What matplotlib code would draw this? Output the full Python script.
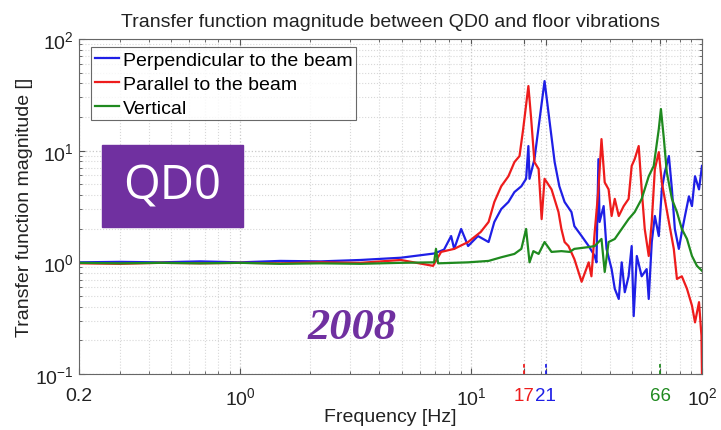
import numpy as np
import matplotlib
matplotlib.use("Agg")
import matplotlib.pyplot as plt
from matplotlib.patches import Rectangle
from matplotlib.ticker import FixedLocator, NullFormatter

plt.rcParams['font.family'] = ['Liberation Sans', 'DejaVu Sans']
plt.rcParams['mathtext.default'] = 'regular'

# values (frequency in Hz, magnitude)
f_perp = [0.2, 0.3, 0.45, 0.67, 1.0, 1.49, 2.23, 3.32, 4.96, 6.91, 7.63, 8.19, 8.44, 9.05, 9.70,
          10.7, 11.9, 12.6, 13.5, 14.5, 15.4, 16.5, 17.3, 17.7, 17.9, 18.8, 19.8, 20.8, 21.8, 23.0,
          24.1, 25.4, 27.2, 28.0, 30.1, 32.3, 34.3, 34.9, 35.6, 36.0, 37.5, 38.6, 40.6, 41.9, 43.6,
          44.9, 46.3, 48.1, 49.6, 50.6, 52.2, 54.8, 57.6, 58.8, 60.6, 62.5, 65.0, 67.0, 69.0, 71.9,
          74.1, 76.3, 79.4, 81.8, 84.4, 87.8, 90.5, 93.3, 97.1, 100]
m_perp = [1.0, 1.01, 1.0, 1.02, 1.0, 1.03, 1.02, 1.05, 1.1, 1.2, 1.3, 1.72, 1.32, 1.99, 1.4,
          1.72, 1.52, 2.3, 3.0, 3.47, 4.26, 4.8, 5.6, 11.0, 5.6, 8.4, 19.2, 42.0, 19.2, 7.9,
          4.8, 3.47, 2.82, 2.11, 1.72, 1.4, 1.14, 1.0, 8.4, 2.3, 3.19, 1.32, 0.87, 0.58, 0.47,
          1.0, 0.54, 0.75, 1.4, 0.33, 1.14, 0.75, 0.87, 0.47, 1.52, 2.6, 1.72, 4.5, 6.4, 8.95,
          4.5, 1.99, 1.32, 1.87, 2.6, 3.9, 3.19, 5.9, 4.5, 7.3]

f_par = [0.2, 0.3, 0.45, 0.67, 1.0, 1.49, 2.23, 3.32, 4.96, 6.84, 7.41, 8.44, 9.70, 11.0, 11.9,
         12.6, 13.5, 14.5, 15.4, 16.2, 16.8, 17.7, 18.2, 18.8, 19.6, 20.2, 20.8, 22.3, 23.9, 24.6,
         25.4, 26.4, 28.0, 30.1, 32.3, 33.2, 34.3, 35.6, 36.7, 37.9, 39.4, 40.6, 41.9, 43.6, 45.8,
         48.1, 49.6, 51.1, 53.2, 54.8, 56.5, 58.8, 60.6, 62.5, 65.0, 67.0, 69.0, 71.9, 75.5, 77.9,
         81.8, 86.1, 90.5, 93.3, 97.1, 99.5, 100]
m_par = [0.98, 0.97, 0.99, 0.98, 0.99, 0.98, 1.0, 0.99, 1.05, 0.93, 1.24, 1.32, 1.52, 1.87, 2.3,
         3.47, 4.8, 5.9, 7.9, 8.95, 15.6, 37.9, 19.2, 7.9, 6.85, 2.44, 5.6, 4.5, 2.82, 1.99,
         1.52, 1.4, 1.07, 0.67, 1.0, 0.75, 1.87, 4.5, 12.7, 5.2, 4.5, 2.6, 3.7, 2.6, 3.19,
         3.7, 7.3, 8.4, 11.0, 4.5, 1.99, 1.14, 2.3, 6.85, 9.7, 5.2, 3.7, 2.3, 1.32, 0.71,
         0.75, 0.58, 0.41, 0.29, 0.44, 0.22, 0.1]

f_vert = [0.2, 0.3, 0.45, 0.67, 1.0, 1.49, 2.23, 3.32, 4.96, 6.91, 7.04, 7.19, 9.70, 11.9, 13.5,
          15.4, 16.5, 17.3, 17.9, 18.6, 19.6, 20.8, 22.3, 24.6, 26.7, 28.0, 32.3, 34.3, 36.7, 37.9,
          39.4, 41.9, 44.9, 48.1, 51.1, 54.8, 58.8, 61.8, 65.0, 66.4, 68.4, 70.4, 74.1, 77.9, 81.8,
          86.1, 90.5, 95.1, 100]
m_vert = [0.99, 0.98, 0.99, 0.98, 0.99, 0.97, 0.98, 0.97, 0.99, 1.0, 1.32, 0.98, 1.0, 1.03, 1.11,
          1.19, 1.32, 1.99, 1.0, 1.26, 1.19, 1.52, 1.24, 1.26, 1.24, 1.32, 1.37, 1.4, 1.62, 0.82,
          1.52, 1.62, 1.99, 2.44, 2.82, 3.7, 5.9, 7.3, 15.6, 23.6, 12.7, 6.4, 3.7, 2.82, 1.99,
          1.62, 1.14, 0.93, 0.84]

xticks = [0.2, 1, 10, 17, 21, 66, 100]
xticklabels = ['0.2', '$10^{0}$', '$10^{1}$', '17', '21', '66', '$10^{2}$']
peak_freqs = [17, 21, 66]

c_blue = '#1f1fe6'
c_red = '#ee1c1c'
c_green = '#1f8a1f'
purple = '#7030a0'
peak_colors = [c_red, c_blue, c_green]

fig = plt.figure(figsize=(7.21, 4.31), dpi=100)
ax = fig.add_axes([0.1096, 0.1299, 0.8640, 0.7773])

ax.plot(f_perp, m_perp, color=c_blue, lw=1.6, label='Perpendicular to the beam')
ax.plot(f_par, m_par, color=c_red, lw=1.6, label='Parallel to the beam')
ax.plot(f_vert, m_vert, color=c_green, lw=1.6, label='Vertical')

ax.set_xscale('log')
ax.set_yscale('log')
ax.set_xlim(0.2, 100)
ax.set_ylim(0.1, 100)

ax.xaxis.set_major_locator(FixedLocator(xticks))
ax.set_xticklabels(xticklabels)
ax.xaxis.set_minor_locator(FixedLocator([v * d for d in (0.1, 1, 10) for v in range(2, 10) if 0.2 < v * d < 100]))
ax.xaxis.set_minor_formatter(NullFormatter())

ax.tick_params(which='both', direction='in', top=True, right=True, colors='#555555', labelcolor='#222222', labelsize=14)
ax.tick_params(which='major', length=4)
ax.tick_params(which='minor', length=2)
ax.tick_params(axis='x', which='major', pad=9)
for lab in ax.get_xticklabels():
    for fq, col in zip(peak_freqs, peak_colors):
        if lab.get_text() == str(fq):
            lab.set_color(col)
            lab.set_fontsize(13.5)

# short dashed markers above the axis at the resonance frequencies
ax.vlines(peak_freqs, 0, 0.035, colors=peak_colors, linestyles=(0, (2, 1.5)), lw=1.3,
          transform=ax.get_xaxis_transform(), zorder=4)

ax.grid(True, which='major', color='#c8c8c8', ls=':', lw=0.9)
ax.grid(True, which='minor', color='#d8d8d8', ls=':', lw=0.8)
for s in ax.spines.values():
    s.set_color('#666666')

ax.set_title('Transfer function magnitude between QD0 and floor vibrations', fontsize=14, color='#222222', pad=9)
ax.set_xlabel('Frequency [Hz]', fontsize=14, color='#222222', labelpad=0)
ax.set_ylabel('Transfer function magnitude []', fontsize=14, color='#222222', labelpad=2)

leg = ax.legend(loc='upper left', bbox_to_anchor=(0.02, 0.976), fontsize=14, frameon=True, fancybox=False,
                handlelength=1.2, handletextpad=0.2, borderpad=0.2, labelspacing=0.33, borderaxespad=0)
leg.get_frame().set_edgecolor('#444444')
leg.get_frame().set_linewidth(0.8)

ax.add_patch(Rectangle((0.037, 0.439), 0.226, 0.245, transform=ax.transAxes, color=purple, zorder=5))
ax.text(0.150, 0.561, 'QD0', transform=ax.transAxes, ha='center', va='center', color='white',
        fontsize=34, family=['Open Sans', 'DejaVu Sans'], zorder=6)
ax.text(0.438, 0.140, '2008', transform=ax.transAxes, ha='center', va='center', color=purple,
        fontsize=32, family=['Liberation Serif'], style='italic', weight='bold', zorder=6)

fig.savefig('out.png', dpi=100)
